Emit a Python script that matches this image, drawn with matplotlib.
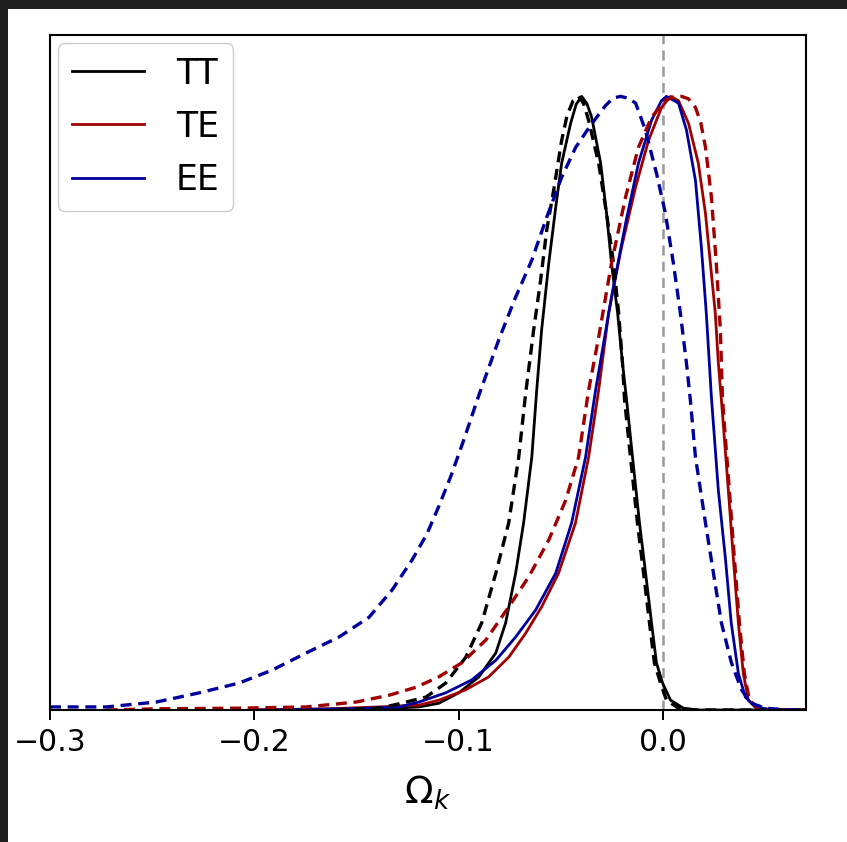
import matplotlib
matplotlib.use("Agg")
import matplotlib.pyplot as plt
from matplotlib.patches import Rectangle

# Marginalised posteriors of Omega_k (peak-normalised), one solid/dashed pair per spectrum
tt_solid_x = [-0.150, -0.1194, -0.1097, -0.0999, -0.0901, -0.0818, -0.0770, -0.0721, -0.0682,
              -0.0642, -0.0618, -0.0594, -0.0559, -0.0525, -0.0496, -0.0452, -0.0425, -0.0398,
              -0.0372, -0.0349, -0.0305, -0.0276, -0.0252, -0.0222, -0.0198, -0.0178, -0.0149,
              -0.0115, -0.0085, -0.0056, -0.0032, -0.0002, 0.0037, 0.0100, 0.0173, 0.070]
tt_solid_y = [0.0, 0.005, 0.011, 0.028, 0.054, 0.093, 0.142, 0.223, 0.305,
              0.412, 0.521, 0.619, 0.728, 0.819, 0.891, 0.956, 0.987, 1.000,
              0.988, 0.966, 0.891, 0.809, 0.728, 0.647, 0.565, 0.505, 0.412,
              0.305, 0.223, 0.142, 0.077, 0.044, 0.016, 0.003, 0.0, 0.0]

tt_dash_x = [-0.160, -0.139, -0.1292, -0.116, -0.1063, -0.0965, -0.0887, -0.0818, -0.0755,
             -0.0706, -0.0672, -0.0633, -0.0599, -0.0569, -0.0535, -0.0496, -0.0470, -0.0440,
             -0.0413, -0.0388, -0.0364, -0.0315, -0.0276, -0.0242, -0.0217, -0.0198, -0.0188,
             -0.0159, -0.0125, -0.0095, -0.0066, -0.0042, -0.0012, 0.0017, 0.0076, 0.0125, 0.070]
tt_dash_y = [0.0, 0.003, 0.010, 0.021, 0.044, 0.086, 0.142, 0.223, 0.305,
             0.412, 0.516, 0.619, 0.700, 0.782, 0.847, 0.928, 0.968, 0.993,
             1.000, 0.988, 0.961, 0.891, 0.809, 0.728, 0.647, 0.565, 0.505,
             0.412, 0.305, 0.223, 0.142, 0.077, 0.044, 0.016, 0.003, 0.0, 0.0]

te_solid_x = [-0.2025, -0.1634, -0.139, -0.1194, -0.1097, -0.0965, -0.0853, -0.0755, -0.0672,
              -0.0594, -0.0511, -0.0428, -0.0364, -0.0315, -0.0266, -0.0203, -0.0134, -0.0071,
              -0.0007, 0.0037, 0.0076, 0.0125, 0.0173, 0.0208, 0.0232, 0.0256, 0.0271,
              0.0286, 0.0295, 0.0320, 0.0344, 0.0369, 0.0393, 0.0418, 0.0457, 0.0515, 0.070]
te_solid_y = [0.0, 0.002, 0.005, 0.008, 0.016, 0.033, 0.054, 0.086, 0.125,
              0.168, 0.223, 0.305, 0.412, 0.521, 0.647, 0.754, 0.852, 0.928,
              0.982, 1.000, 0.993, 0.956, 0.891, 0.809, 0.728, 0.647, 0.565,
              0.505, 0.467, 0.358, 0.249, 0.142, 0.060, 0.016, 0.003, 0.0, 0.0]

te_dash_x = [-0.2724, -0.2479, -0.2074, -0.1746, -0.1502, -0.1341, -0.1209, -0.1097, -0.0984,
             -0.0867, -0.0755, -0.0657, -0.0559, -0.0476, -0.0413, -0.0364, -0.0315, -0.0252,
             -0.0183, -0.0120, -0.0056, 0.0012, 0.0050, 0.0090, 0.0125, 0.0159, 0.0185, 0.0208,
             0.0237, 0.0261, 0.0281, 0.0291, 0.0300, 0.0325, 0.0349, 0.0374, 0.0398, 0.0423,
             0.0466, 0.0525, 0.070]
te_dash_y = [0.0, 0.002, 0.003, 0.005, 0.013, 0.024, 0.037, 0.054, 0.077,
             0.114, 0.168, 0.217, 0.277, 0.342, 0.412, 0.521, 0.607, 0.728,
             0.836, 0.917, 0.966, 0.993, 0.999, 1.000, 0.996, 0.982, 0.957, 0.917,
             0.836, 0.728, 0.619, 0.510, 0.467, 0.358, 0.249, 0.142, 0.060, 0.016,
             0.003, 0.0, 0.0]

ee_solid_x = [-0.2025, -0.1536, -0.1292, -0.1194, -0.1063, -0.0936, -0.0818, -0.0721, -0.0623,
              -0.0525, -0.0447, -0.0379, -0.0330, -0.0252, -0.0183, -0.0120, -0.0056, -0.0007,
              0.0017, 0.0076, 0.0115, 0.0159, 0.0188, 0.0212, 0.0237, 0.0271, 0.0305,
              0.0334, 0.0369, 0.0403, 0.0452, 0.054, 0.070]
ee_solid_y = [0.0, 0.002, 0.005, 0.013, 0.028, 0.049, 0.081, 0.119, 0.163,
              0.223, 0.305, 0.412, 0.521, 0.673, 0.793, 0.891, 0.961, 0.993,
              1.000, 0.989, 0.945, 0.863, 0.754, 0.647, 0.510, 0.358, 0.249,
              0.142, 0.060, 0.021, 0.005, 0.0, 0.0]

ee_dash_x = [-0.300, -0.2724, -0.2479, -0.2269, -0.2074, -0.1913, -0.1746, -0.1585, -0.1439,
             -0.1327, -0.1229, -0.1155, -0.1097, -0.1038, -0.0975, -0.0901, -0.0804, -0.0721,
             -0.0642, -0.0569, -0.0496, -0.0427, -0.0354, -0.0281, -0.0245, -0.0208, -0.0170,
             -0.0134, -0.0086, -0.0032, 0.0012, 0.0051, 0.0085, 0.0115, 0.0134, 0.0159, 0.0208,
             0.0247, 0.0286, 0.0335, 0.0384, 0.0432, 0.0501, 0.0613, 0.070]
ee_dash_y = [0.005, 0.005, 0.013, 0.028, 0.044, 0.065, 0.093, 0.119, 0.151,
             0.195, 0.244, 0.287, 0.332, 0.381, 0.440, 0.513, 0.603, 0.673,
             0.733, 0.803, 0.868, 0.917, 0.953, 0.985, 0.997, 1.000, 0.997,
             0.989, 0.945, 0.875, 0.809, 0.728, 0.647, 0.565, 0.505, 0.412, 0.305,
             0.223, 0.142, 0.077, 0.033, 0.011, 0.003, 0.0, 0.0]

labels = ["TT", "TE", "EE"]
colors = ["black", "#a00000", "#00009c"]
xticks = [-0.3, -0.2, -0.1, 0.0]
xtick_labels = ["\u22120.3", "\u22120.2", "\u22120.1", "0.0"]

W, H = 847, 842
fig = plt.figure(figsize=(W / 100, H / 100), dpi=100, facecolor="white")

# dark window frame along the top and left edges
fig.add_artist(Rectangle((0, 1 - 9 / H), 1, 9 / H, transform=fig.transFigure,
                         facecolor="#1f1f1f", edgecolor="none", zorder=10))
fig.add_artist(Rectangle((0, 0), 8 / W, 1, transform=fig.transFigure,
                         facecolor="#1f1f1f", edgecolor="none", zorder=10))

ax = fig.add_axes([50 / W, 1 - 710 / H, (806 - 50) / W, (710 - 35) / H])

solid = [(tt_solid_x, tt_solid_y), (te_solid_x, te_solid_y), (ee_solid_x, ee_solid_y)]
dashed = [(tt_dash_x, tt_dash_y), (te_dash_x, te_dash_y), (ee_dash_x, ee_dash_y)]

for (x, y), c, lab in zip(solid, colors, labels):
    ax.plot(x, y, color=c, lw=2.0, label=lab, solid_joinstyle="round")
for (x, y), c in zip(dashed, colors):
    ax.plot(x, y, color=c, lw=2.4, ls="--", dashes=(3.3, 2.0), dash_joinstyle="round")

ax.axvline(0.0, color="#999999", lw=1.8, ls="--", dashes=(4, 2.5), zorder=0)

ax.set_xlim(-0.3, 0.07)
ax.set_ylim(0, 1.1)
ax.set_yticks([])
ax.set_xticks(xticks)
ax.set_xticklabels(xtick_labels)
ax.tick_params(axis="x", labelsize=21.5, length=7, width=1.4, pad=6)
for s in ax.spines.values():
    s.set_linewidth(1.5)

ax.set_xlabel(r"$\Omega_k$", fontsize=27, labelpad=12)

ax.legend(loc="upper left", fontsize=25, frameon=True, fancybox=True,
          borderaxespad=0.22, handlelength=2.1, handletextpad=0.9,
          labelspacing=0.55, borderpad=0.4, framealpha=1.0, edgecolor="#cccccc")

fig.savefig("out.png", dpi=100, facecolor="white")
